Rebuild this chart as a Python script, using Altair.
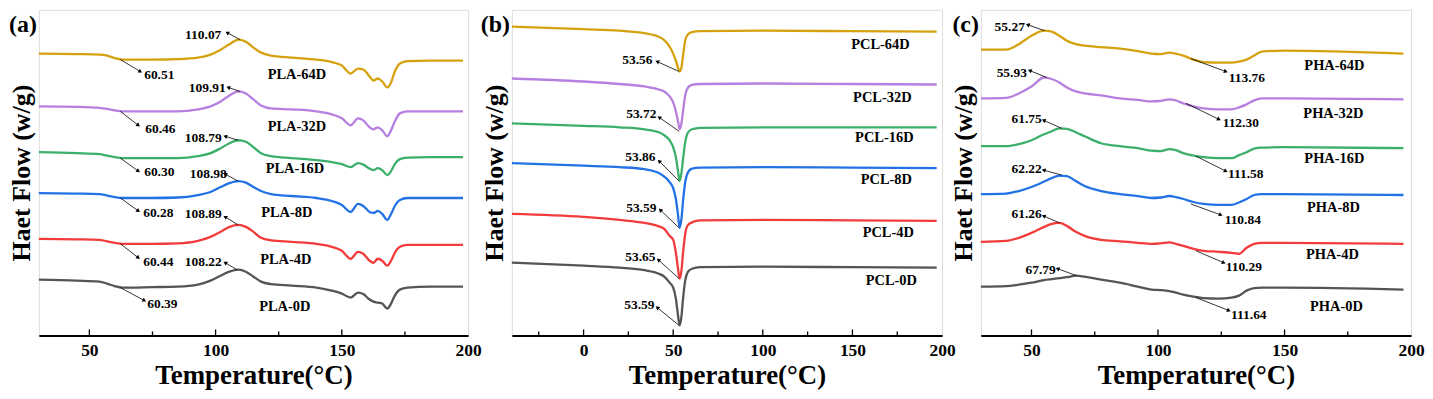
import math
import altair as alt
import pandas as pd

FONT = "Liberation Serif"
SERIES = ["64D", "32D", "16D", "8D", "4D", "0D"]
COLORS = ["#D5A20F", "#B77FE0", "#3CB06B", "#2272E6", "#F23B3B", "#555555"]

# ---------------- (a) PLA ----------------
PLA_T = [30, 45, 54, 57, 60, 63, 75, 85, 93, 98, 102, 105.5, 109, 112, 115, 118, 122, 130, 140, 146,
         150, 153.5, 156.4, 158.5, 161, 162.5, 164.3, 166, 168, 169.5, 171, 173, 176, 185, 198]
PLA_64D = [-52, -52.5, -53, -54, -56.5, -58, -58, -57.5, -56, -53, -48, -42.5, -38, -40, -46, -51, -54, -56, -58, -60.5,
           -64, -72, -67, -68, -75, -79, -77, -80, -86, -81, -70, -62, -59.5, -59, -59]
PLA_32D = [-105, -105.5, -106.5, -107.5, -109, -110, -110, -110, -108, -105, -100, -94, -90, -92, -98, -104, -107, -108, -110, -113,
           -117, -124, -117, -119, -126, -128, -126, -129, -135, -129, -120, -112, -110, -110, -110]
PLA_16D = [-151, -152, -153, -154.5, -156, -157, -157, -157, -155, -152, -147, -142, -139, -140.5, -146, -152, -155, -157, -159, -161,
           -163, -166, -162, -163.5, -167.5, -169, -167, -169, -174, -170, -163, -158, -156.5, -156, -156]
PLA_8D = [-192, -192.5, -193, -194.5, -196, -197, -197, -196.5, -194, -191, -186, -182, -180, -181.5, -186, -190, -193, -195, -197, -200,
          -204, -211, -203, -205, -211, -212, -210, -213, -219, -213, -205, -199, -197, -197, -197]
PLA_4D = [-238, -238.5, -239, -240.5, -242, -243, -243, -242.5, -240, -236, -231, -226, -224, -226, -231, -237, -239.5, -241, -243, -246,
          -250, -258, -251, -253, -260, -262, -258, -260, -265, -260, -252, -246, -244, -244, -244]
PLA_0D = [-279, -280, -281, -283, -285.5, -287, -286.5, -286, -284, -280, -275, -271, -269, -271, -276, -281, -283.5, -285, -287, -290,
          -293, -297, -292, -293.5, -299, -301, -302, -303, -308, -303, -295, -289, -287, -286, -286]

PLA_NUM_TEXT = ["110.07", "109.91", "108.79", "108.98", "108.89", "108.22",
                "60.51", "60.46", "60.30", "60.28", "60.44", "60.39"]
PLA_NUM_T = [95.1, 96.7, 95.1, 97.1, 95.1, 95.1, 77.7, 78.1, 77.7, 77.3, 77.3, 78.9]
PLA_NUM_V = [-33, -87, -137, -173, -213, -261, -73, -128, -171, -212, -261, -303]
PLA_ARR_T1 = [109.7, 109.7, 108.9, 108.9, 108.9, 108.5, 62.3, 62.3, 62.3, 62.3, 62.3, 62.3]
PLA_ARR_V1 = [-38, -90, -139, -180, -224, -269, -58, -110, -157, -197, -243, -287]
PLA_ARR_T2 = [104.6, 105.0, 103.8, 103.8, 103.8, 103.8, 70.2, 69.4, 69.4, 69.4, 69.4, 71.8]
PLA_ARR_V2 = [-31, -86, -135, -173, -216, -262, -70, -124, -170, -210, -257, -300]
PLA_NAME_TEXT = ["PLA-64D", "PLA-32D", "PLA-16D", "PLA-8D", "PLA-4D", "PLA-0D"]
PLA_NAME_T = [132.2, 132.2, 131.4, 128.2, 127.8, 127.4]
PLA_NAME_V = [-73, -126, -168, -212, -259, -306]

# ---------------- (b) PCL ----------------
PCL_T = [-40, 0, 20, 34, 42, 45, 48, 50, 51.5, 52.7, 53.6, 54.6, 55.5, 56.8, 58.3, 60.5, 65, 100, 150, 197]
PCL_64D = [-25, -27.5, -29, -31.5, -35, -38.5, -45, -52, -59, -66, -70, -66, -54, -38, -32.5, -30.5, -29.5, -29, -29.5, -30]
PCL_32D = [-77, -80, -82.5, -85, -88, -90, -95, -101, -110, -120, -128, -122, -110, -93, -86, -83.5, -82.5, -82, -82.5, -83]
PCL_16D = [-122, -124.5, -126, -128, -131, -134, -139, -146, -156, -170, -180, -172, -158, -140, -131, -128, -126.5, -126, -126, -126]
PCL_8D = [-162, -164.5, -166, -168, -172, -175.5, -181, -187, -198, -214, -227, -218, -200, -180, -171, -167.5, -166.5, -166, -166.5, -167]
PCL_4D = [-213, -216, -219, -222, -225.5, -228, -235, -239, -252, -268, -278, -270, -252, -232, -224, -221.5, -219.5, -219, -219.5, -220]
PCL_0D = [-262, -265, -267, -269.5, -273, -276, -282, -287, -298, -315, -325, -316, -298, -279, -271, -268, -266.5, -266, -266.5, -267]

PCL_NUM_TEXT = ["53.56", "53.72", "53.86", "53.59", "53.65", "53.59"]
PCL_NUM_T = [30.0, 32.2, 31.7, 32.2, 31.7, 31.1]
PCL_NUM_V = [-58, -113, -156, -207, -256, -304]
PCL_ARR_T1 = [53.3, 53.3, 53.3, 53.3, 53.3, 53.3]
PCL_ARR_V1 = [-70, -130, -180, -227, -278, -325]
PCL_ARR_T2 = [41.1, 42.2, 42.2, 42.8, 41.7, 41.1]
PCL_ARR_V2 = [-60, -116, -160, -209, -259, -307]
PCL_NAME_TEXT = ["PCL-64D", "PCL-32D", "PCL-16D", "PCL-8D", "PCL-4D", "PCL-0D"]
PCL_NAME_T = [165.6, 166.7, 167.8, 168.9, 170.0, 171.7]
PCL_NAME_V = [-43, -97, -137, -179, -232, -280]

# ---------------- (c) PHA ----------------
PHA_T = [30, 40, 45, 50, 55, 58, 61, 64, 67.5, 71, 77.5, 85, 92, 97.5, 101, 104.5, 107, 110, 114, 118,
         124, 129, 132, 135, 138, 141, 150, 197]
PHA_64D = [-48, -48, -42.5, -34, -29, -30, -34, -39, -42.5, -44, -45.5, -47, -49.5, -52, -52.5, -51, -52, -54, -58, -60.5,
           -61, -61, -60, -58, -54, -50, -49, -52]
PHA_32D = [-97, -96.5, -92, -85, -76, -77.5, -81, -86, -90, -92, -94, -97, -98.5, -100, -99.5, -98, -99, -102, -105, -107,
           -108, -108, -106, -103, -99, -97, -97, -98]
PHA_16D = [-145, -145, -143, -139, -133, -130, -127, -127.5, -131, -135, -142, -145, -147, -149.5, -150, -148, -149, -152, -154.5, -156,
           -157, -157, -154, -151, -147.5, -146.5, -146, -147]
PHA_8D = [-193, -192.5, -190, -186, -180.5, -177, -174.5, -175, -180, -185, -190, -193, -195, -197, -196.5, -195, -196, -198, -201, -203,
          -204, -204, -201.5, -198, -194, -193, -193, -194]
PHA_4D = [-241, -240, -237, -232, -226, -223, -222, -225, -231, -235, -239, -240.5, -242, -243, -242.5, -241.5, -243, -245, -248, -250,
          -251, -252, -253, -247, -243, -242, -242, -243]
PHA_0D = [-286, -285.5, -284, -282, -279.5, -278.5, -277.5, -276.5, -275, -276, -279, -282, -286, -289, -289.5, -290.5, -292, -294, -296, -297.5,
          -298, -297, -295, -290, -287.5, -287, -287, -289]

PHA_NUM_TEXT = ["55.27", "55.93", "61.75", "62.22", "61.26", "67.79",
                "113.76", "112.30", "111.58", "110.84", "110.29", "111.64"]
PHA_NUM_T = [41.4, 42.2, 48.1, 48.1, 48.1, 53.6, 135.1, 132.7, 134.7, 133.5, 133.9, 135.9]
PHA_NUM_V = [-25, -71, -118, -168, -213, -269, -77, -122, -173, -219, -266, -315]
PHA_ARR_T1 = [55.2, 56.0, 61.9, 61.9, 61.1, 67.8, 113.0, 111.1, 115.0, 113.0, 115.0, 115.0]
PHA_ARR_V1 = [-29, -76, -127, -174, -222, -275, -57, -102, -155, -203, -250, -297]
PHA_ARR_T2 = [48.5, 49.3, 54.8, 54.8, 54.8, 60.3, 126.8, 124.1, 126.8, 124.8, 126.0, 128.0]
PHA_ARR_V2 = [-23, -69, -119, -169, -215, -268, -70, -118, -170, -214, -262, -310]
PHA_NAME_TEXT = ["PHA-64D", "PHA-32D", "PHA-16D", "PHA-8D", "PHA-4D", "PHA-0D"]
PHA_NAME_T = [169.7, 169.3, 169.7, 169.3, 168.9, 170.5]
PHA_NAME_V = [-64, -113, -158, -207, -254, -306]

H = 327
YDOM = [-335, -8]


def panel(tag, T, curves, xdom, width, labels_at, major, minor,
          num_text, num_t, num_v, a_t1, a_v1, a_t2, a_v2, name_text, name_t, name_v):
    rows = []
    for s, vals in zip(SERIES, curves):
        for t, v in zip(T, vals):
            rows.append({"T": t, "v": v, "s": s})
    df = pd.DataFrame(rows)

    xscale = alt.Scale(domain=xdom, nice=False, zero=False)
    yscale = alt.Scale(domain=YDOM, nice=False, zero=False)
    xaxis = alt.Axis(values=labels_at, ticks=False, grid=False, domain=True, domainColor="black",
                     domainWidth=2, labelFont=FONT, labelFontSize=17.5, labelFontWeight="bold",
                     labelColor="black", labelPadding=6, labelFlush=False,
                     title="Temperature(°C)", titleFont=FONT, titleFontSize=27,
                     titleFontWeight="bold", titleColor="black", titlePadding=4)
    yaxis = alt.Axis(labels=False, ticks=False, grid=False, domain=False,
                     title="Haet Flow (w/g)", titleFont=FONT, titleFontSize=26,
                     titleFontWeight="bold", titleColor="black", titlePadding=4)

    def xe(f):
        return alt.X(f"{f}:Q", scale=xscale, axis=xaxis)

    def ye(f):
        return alt.Y(f"{f}:Q", scale=yscale, axis=yaxis)

    lines = alt.Chart(df).mark_line(interpolate="monotone", strokeWidth=2.3).encode(
        x=xe("T"), y=ye("v"),
        color=alt.Color("s:N", scale=alt.Scale(domain=SERIES, range=COLORS), legend=None),
    )

    ppd = width / (xdom[1] - xdom[0])
    ppv = H / (YDOM[1] - YDOM[0])
    angs = [math.degrees(math.atan2((t2 - t1) * ppd, (v2 - v1) * ppv)) % 360
            for t1, v1, t2, v2 in zip(a_t1, a_v1, a_t2, a_v2)]
    adf = pd.DataFrame({"T": a_t1, "v": a_v1, "T2": a_t2, "v2": a_v2, "ang": angs})
    arrows = alt.Chart(adf).mark_rule(color="black", strokeWidth=0.8).encode(
        x=xe("T"), y=ye("v"), x2="T2:Q", y2="v2:Q")
    heads = alt.Chart(adf).mark_point(shape="triangle-up", filled=True, color="black",
                                      size=20, opacity=1).encode(
        x=xe("T2"), y=ye("v2"), angle=alt.Angle("ang:Q", scale=None))

    ndf = pd.DataFrame({"T": num_t, "v": num_v, "txt": num_text})
    nums = alt.Chart(ndf).mark_text(font=FONT, fontSize=13.5, fontWeight="bold", color="black",
                                    baseline="middle", align="center").encode(
        x=xe("T"), y=ye("v"), text="txt:N")
    mdf = pd.DataFrame({"T": name_t, "v": name_v, "txt": name_text})
    names = alt.Chart(mdf).mark_text(font=FONT, fontSize=14.5, fontWeight="bold", color="black",
                                     baseline="middle", align="center").encode(
        x=xe("T"), y=ye("v"), text="txt:N")

    majdf = pd.DataFrame({"T": major})
    mindf = pd.DataFrame({"T": minor})
    tmaj = alt.Chart(majdf).mark_rule(color="black", strokeWidth=1.3).encode(
        x=xe("T"), y=alt.value(H), y2=alt.value(H - 6))
    tmin = alt.Chart(mindf).mark_rule(color="black", strokeWidth=1.3).encode(
        x=xe("T"), y=alt.value(H), y2=alt.value(H - 4))

    tagc = alt.Chart(pd.DataFrame({"lab": [tag]})).mark_text(
        font=FONT, fontSize=24, fontWeight="bold", color="black", align="right",
        baseline="middle").encode(x=alt.value(-2), y=alt.value(15), text="lab:N")

    return alt.layer(lines, arrows, heads, nums, names, tmaj, tmin, tagc).properties(
        width=width, height=H)


pa = panel("(a)", PLA_T, [PLA_64D, PLA_32D, PLA_16D, PLA_8D, PLA_4D, PLA_0D], [30, 200], 431,
           [50, 100, 150, 200], [50, 100, 150], [75, 125, 175],
           PLA_NUM_TEXT, PLA_NUM_T, PLA_NUM_V, PLA_ARR_T1, PLA_ARR_V1, PLA_ARR_T2, PLA_ARR_V2,
           PLA_NAME_TEXT, PLA_NAME_T, PLA_NAME_V)
pb = panel("(b)", PCL_T, [PCL_64D, PCL_32D, PCL_16D, PCL_8D, PCL_4D, PCL_0D], [-40, 200], 432,
           [0, 50, 100, 150, 200], [0, 50, 100, 150], [-25, 25, 75, 125, 175],
           PCL_NUM_TEXT, PCL_NUM_T, PCL_NUM_V, PCL_ARR_T1, PCL_ARR_V1, PCL_ARR_T2, PCL_ARR_V2,
           PCL_NAME_TEXT, PCL_NAME_T, PCL_NAME_V)
pc = panel("(c)", PHA_T, [PHA_64D, PHA_32D, PHA_16D, PHA_8D, PHA_4D, PHA_0D], [30, 200], 432,
           [50, 100, 150, 200], [50, 100, 150], [75, 125, 175],
           PHA_NUM_TEXT, PHA_NUM_T, PHA_NUM_V, PHA_ARR_T1, PHA_ARR_V1, PHA_ARR_T2, PHA_ARR_V2,
           PHA_NAME_TEXT, PHA_NAME_T, PHA_NAME_V)

inner = alt.hconcat(pb, pc, spacing=39, bounds="flush")
chart = alt.hconcat(pa, inner, spacing=44, bounds="flush").properties(
    padding={"left": 0, "top": 0, "right": 0, "bottom": 0}
).configure_view(stroke="black", strokeWidth=1.5).configure(background="white")

chart.save("out.html", embed_options={"renderer": "svg", "actions": False})
